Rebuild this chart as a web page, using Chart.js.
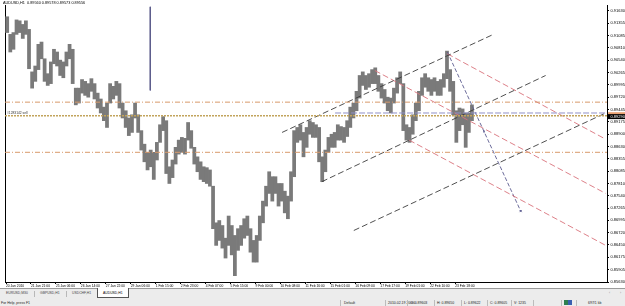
<!DOCTYPE html>
<html>
<head>
<meta charset="utf-8">
<title>AUDUSD,H1</title>
<script src="https://cdn.jsdelivr.net/npm/chart.js@4.4.1/dist/chart.umd.min.js"></script>
<style>
  html, body { margin: 0; padding: 0; width: 625px; height: 306px; overflow: hidden; background: #fff; font-family: "Liberation Sans", "DejaVu Sans", sans-serif; }
  #chartBox { position: absolute; left: 0; top: 0; width: 625px; height: 289px; }
  #symbol { position: absolute; left: 3px; top: 1px; font-size: 3.8px; line-height: 4px; color: #000; white-space: nowrap; }
  #tabs { position: absolute; left: 0; top: 288px; width: 625px; height: 11px; background: #ececec; border-top: 1px solid #9a9a9a; box-sizing: border-box; }
  .tab { position: absolute; top: 0; height: 9px; line-height: 9px; font-size: 3.4px; color: #444; white-space: nowrap; }
  .sep { position: absolute; top: 2px; width: 0; height: 6px; border-left: 1px solid #b8b8b8; }
  #active { position: absolute; left: 97px; top: -1px; width: 32px; height: 10px; background: #fff; border: 1px solid #555; border-top: none; box-sizing: border-box; }
  #status { position: absolute; left: 0; top: 299px; width: 625px; height: 7px; background: #ececec; }
  .st { position: absolute; top: 0; height: 7px; line-height: 8px; font-size: 3.5px; color: #222; white-space: nowrap; }
  .pane { position: absolute; top: 1px; height: 6px; border-left: 1px solid #bcbcbc; }
</style>
</head>
<body>
<div id="chartBox"><canvas id="chart" width="625" height="289"></canvas></div>
<div id="symbol">AUDUSD,H1&nbsp;&nbsp;0.89560 0.89578 0.89573 0.89556</div>

<div id="tabs">
  <div class="tab" style="left:6px">EURUSD,M30</div>
  <div class="sep" style="left:34px"></div>
  <div class="tab" style="left:40px">GBPUSD,H1</div>
  <div class="sep" style="left:66px"></div>
  <div class="tab" style="left:72px">USDCHF,H1</div>
  <div id="active"></div>
  <div class="tab" style="left:103px;color:#000">AUDUSD,H1</div>
  <div class="tab" style="left:609px;color:#888">&#8249;</div>
  <div class="tab" style="left:620px;color:#888">&#8250;</div>
</div>

<div id="status">
  <div class="st" style="left:1px">For Help, press F1</div>
  <div class="pane" style="left:340px"></div>
  <div class="st" style="left:344px">Default</div>
  <div class="pane" style="left:385px"></div>
  <div class="st" style="left:388px">2010.02.19 20:00</div>
  <div class="pane" style="left:407px"></div>
  <div class="st" style="left:410px">O: 0.89603</div>
  <div class="pane" style="left:434px"></div>
  <div class="st" style="left:437px">H: 0.89650</div>
  <div class="pane" style="left:461px"></div>
  <div class="st" style="left:464px">L: 0.89622</div>
  <div class="pane" style="left:487px"></div>
  <div class="st" style="left:490px">C: 0.89605</div>
  <div class="pane" style="left:511px"></div>
  <div class="st" style="left:514px">V: 1235</div>
  <div class="pane" style="left:533px"></div>
  <div class="pane" style="left:561px"></div>
  <div style="position:absolute;left:564px;top:1px;width:8px;height:5px;background:linear-gradient(90deg,#2f7f4f 0,#2f7f4f 50%,#3a5fb0 50%,#3a5fb0 100%)"></div>
  <div class="pane" style="left:576px"></div>
  <div class="st" style="left:588px">697/1 kb</div>
</div>

<script>
// bar index (hourly bars) of each time label and its text
const timeTickBars = [0, 32, 64, 96, 128, 160, 192, 224, 256, 288, 320, 352, 384, 416, 448, 480, 512, 544, 576];
const timeLabels = ['20 Jan 2010', '21 Jan 21:00', '25 Jan 06:00', '26 Jan 14:00', '27 Jan 22:00', '29 Jan 06:00',
  '1 Feb 15:00', '2 Feb 23:00', '4 Feb 07:00', '5 Feb 15:00', '9 Feb 00:00', '10 Feb 08:00', '11 Feb 16:00',
  '15 Feb 01:00', '16 Feb 09:00', '17 Feb 17:00', '19 Feb 01:00', '22 Feb 10:00', '23 Feb 18:00'];

// price scale labels
const priceTicks = [0.85630, 0.85905, 0.86175, 0.86450, 0.86720, 0.86995, 0.87265, 0.87540, 0.87810, 0.88085,
  0.88355, 0.88630, 0.88900, 0.89175, 0.89445, 0.89720, 0.89995, 0.90265, 0.90540, 0.90810, 0.91085, 0.91355, 0.91630];

// price range of each group of 4 hourly bars
const barsPerColumn = 4;
const colHigh = [
  0.9150, 0.9111, 0.9115, 0.9143, 0.9141, 0.9133, 0.9141, 0.9122, 0.9028, 0.9041,
  0.9089, 0.9094, 0.9057, 0.9024, 0.9050, 0.9078, 0.9072, 0.9054, 0.9050, 0.9072,
  0.9089, 0.9078, 0.8992, 0.8992, 0.9011, 0.9007, 0.9002, 0.9013, 0.9002, 0.8981,
  0.8968, 0.8950, 0.8959, 0.9002, 0.8996, 0.9007, 0.9002, 0.8959, 0.8942, 0.8926,
  0.8933, 0.8959, 0.8933, 0.8898, 0.8868, 0.8850, 0.8855, 0.8850, 0.8872, 0.8911,
  0.8929, 0.8920, 0.8818, 0.8833, 0.8861, 0.8877, 0.8883, 0.8881, 0.8916, 0.8898,
  0.8861, 0.8840, 0.8829, 0.8818, 0.8816, 0.8811, 0.8775, 0.8694, 0.8699, 0.8688,
  0.8660, 0.8709, 0.8688, 0.8666, 0.8681, 0.8688, 0.8703, 0.8709, 0.8681, 0.8655,
  0.8666, 0.8709, 0.8742, 0.8775, 0.8807, 0.8796, 0.8796, 0.8781, 0.8781, 0.8764,
  0.8753, 0.8807, 0.8898, 0.8905, 0.8911, 0.8894, 0.8905, 0.8920, 0.8916, 0.8911,
  0.8905, 0.8840, 0.8855, 0.8883, 0.8890, 0.8894, 0.8911, 0.8907, 0.8905, 0.8920,
  0.8950, 0.8959, 0.8985, 0.9020, 0.9028, 0.9020, 0.9024, 0.9033, 0.9037, 0.9020,
  0.9002, 0.8989, 0.8972, 0.8970, 0.8992, 0.9015, 0.9028, 0.9002, 0.8911, 0.8905,
  0.8933, 0.8959, 0.8985, 0.9015, 0.9024, 0.9015, 0.9011, 0.9015, 0.9007, 0.9011,
  0.9024, 0.9074, 0.9033, 0.9007, 0.8942, 0.8948, 0.8946, 0.8937, 0.8937, 0.8955
];
const colLow = [
  0.9115, 0.9072, 0.9078, 0.9111, 0.9115, 0.9102, 0.9111, 0.9035, 0.8992, 0.9007,
  0.9033, 0.9057, 0.9007, 0.8998, 0.9002, 0.9046, 0.9041, 0.9020, 0.9015, 0.9041,
  0.9057, 0.9002, 0.8955, 0.8959, 0.8981, 0.8976, 0.8972, 0.8985, 0.8968, 0.8948,
  0.8937, 0.8920, 0.8905, 0.8959, 0.8968, 0.8976, 0.8948, 0.8926, 0.8905, 0.8887,
  0.8894, 0.8926, 0.8894, 0.8855, 0.8829, 0.8811, 0.8818, 0.8790, 0.8833, 0.8872,
  0.8898, 0.8803, 0.8781, 0.8794, 0.8824, 0.8846, 0.8850, 0.8846, 0.8877, 0.8859,
  0.8824, 0.8807, 0.8790, 0.8785, 0.8781, 0.8775, 0.8681, 0.8644, 0.8655, 0.8638,
  0.8616, 0.8644, 0.8623, 0.8577, 0.8633, 0.8644, 0.8660, 0.8666, 0.8629, 0.8607,
  0.8607, 0.8655, 0.8694, 0.8731, 0.8759, 0.8742, 0.8759, 0.8731, 0.8742, 0.8716,
  0.8703, 0.8742, 0.8796, 0.8872, 0.8877, 0.8840, 0.8861, 0.8890, 0.8883, 0.8883,
  0.8829, 0.8785, 0.8807, 0.8850, 0.8861, 0.8861, 0.8877, 0.8877, 0.8872, 0.8885,
  0.8905, 0.8926, 0.8942, 0.8970, 0.8998, 0.8989, 0.8994, 0.9002, 0.9002, 0.8985,
  0.8970, 0.8959, 0.8942, 0.8937, 0.8959, 0.8981, 0.9002, 0.8898, 0.8877, 0.8872,
  0.8890, 0.8920, 0.8942, 0.8976, 0.8994, 0.8985, 0.8976, 0.8985, 0.8976, 0.8976,
  0.8994, 0.9013, 0.8985, 0.8933, 0.8872, 0.8898, 0.8911, 0.8861, 0.8894, 0.8920
];

// drawn objects: [bar index, price]
const channelUpper = [[354, 0.8894], [625, 0.9111]];
const channelMiddle = [[405, 0.8785], [692, 0.9020]];
const channelLower = [[446, 0.8677], [769, 0.8937]];
const redUpper = [[566, 0.9068], [769, 0.8879]];
const redMiddle = [[473, 0.9031], [769, 0.8759]];
const redLower = [[517, 0.8877], [769, 0.8644]];
const projection = [[566, 0.9072], [613, 0.8896], [660, 0.8720]];
const vLine = [[185, 0.9172], [185, 0.8987]];
const levelUpper = 0.8961;
const sellLevel = 0.8931;
const bidLineStart = 422;
const bidLevel = 0.8937;
const levelLower = 0.8850;
const lastPrice = 0.8929;

const xMin = -1.3, xMax = 770.7;
const pts = arr => arr.map(p => ({x: p[0], y: p[1]}));
const hLine = (v, from) => [{x: from, y: v}, {x: xMax, y: v}];

function lineSet(data, color, dash, width, extra) {
  return Object.assign({
    type: 'line', data: data, borderColor: color, borderWidth: width || 1,
    borderDash: dash, pointRadius: 0, fill: false, tension: 0, order: 0
  }, extra || {});
}

const overlays = {
  id: 'overlays',
  afterDraw(chart) {
    const {ctx, chartArea} = chart;
    const y = chart.scales.y;
    ctx.save();
    ctx.font = '3.3px "Liberation Sans"';
    ctx.fillStyle = '#333';
    ctx.textBaseline = 'bottom';
    ctx.fillText('#1283142 sell', chartArea.left + 2, y.getPixelForValue(sellLevel) - 0.8);
    const sy = y.getPixelForValue(sellLevel);
    ctx.fillStyle = '#e8a070';
    ctx.fillRect(chartArea.right + 1, sy - 3.5, 17, 2.5);
    const py = y.getPixelForValue(lastPrice);
    ctx.fillStyle = '#000';
    ctx.fillRect(chartArea.right + 1, py - 2.5, 17, 5);
    ctx.fillStyle = '#fff';
    ctx.textBaseline = 'middle';
    ctx.font = '4px "Liberation Sans"';
    ctx.fillText(lastPrice.toFixed(5), chartArea.right + 3.5, py + 0.3);
    ctx.restore();
  }
};

Chart.defaults.font.family = '"Liberation Sans", sans-serif';

new Chart(document.getElementById('chart'), {
  type: 'line',
  data: {
    datasets: [
      {
        type: 'bar',
        data: colHigh.map((h, i) => ({x: i * barsPerColumn + 1.5, y: [colLow[i], h]})),
        backgroundColor: '#7a7a7a',
        borderWidth: 0,
        barThickness: 3.1,
        grouped: false,
        order: 10
      },
      lineSet(hLine(levelUpper, xMin), '#d99a6c', [5, 2, 1, 2]),
      lineSet(hLine(levelLower, xMin), '#d99a6c', [5, 2, 1, 2]),
      lineSet(hLine(sellLevel, xMin), '#c2a45c', [2, 1], 1.6),
      lineSet(hLine(bidLevel, bidLineStart), '#9090c8', [6, 2]),
      lineSet(pts(channelUpper), '#3c3c3c', [6, 3], 0.9),
      lineSet(pts(channelMiddle), '#3c3c3c', [6, 3], 0.9),
      lineSet(pts(channelLower), '#3c3c3c', [6, 3], 0.9),
      lineSet(pts(redUpper), '#d9737c', [6, 3], 0.9),
      lineSet(pts(redMiddle), '#d9737c', [6, 3], 0.9),
      lineSet(pts(redLower), '#d9737c', [6, 3], 0.9),
      lineSet(pts(projection), '#5b5b8f', [4, 2], 0.9, {
        pointRadius: [0, 1.2, 1.5], pointStyle: 'crossRot', pointBorderColor: '#5b5b8f', pointBorderWidth: 1
      }),
      lineSet(pts(vLine), '#5c5c8c', [], 1)
    ]
  },
  options: {
    responsive: false,
    animation: false,
    devicePixelRatio: 1,
    layout: {padding: 0},
    plugins: {legend: {display: false}, tooltip: {enabled: false}},
    scales: {
      x: {
        type: 'linear', position: 'bottom', min: xMin, max: xMax, offset: false,
        grid: {drawOnChartArea: false, drawTicks: true, tickLength: 2, color: '#000', offset: false},
        border: {display: true, color: '#000', width: 1},
        ticks: {
          font: {size: 3.3}, color: '#000', padding: 0.5, align: 'start',
          maxRotation: 0, minRotation: 0, autoSkip: false,
          callback: v => timeLabels[timeTickBars.indexOf(v)]
        },
        afterBuildTicks: s => { s.ticks = timeTickBars.map(v => ({value: v})); },
        afterFit: s => { s.height = 7; }
      },
      y: {
        type: 'linear', position: 'right', min: 0.85630, max: 0.91760,
        grid: {drawOnChartArea: false, drawTicks: true, tickLength: 2, color: '#000'},
        border: {display: true, color: '#000', width: 1},
        ticks: {font: {size: 4}, color: '#000', padding: 1.5, autoSkip: false, callback: v => v.toFixed(5)},
        afterBuildTicks: s => { s.ticks = priceTicks.map(v => ({value: v})); },
        afterFit: s => { s.width = 18; }
      },
      yLeft: {
        type: 'linear', position: 'left',
        grid: {display: false, drawTicks: false},
        border: {display: true, color: '#000', width: 1},
        ticks: {display: false},
        afterFit: s => { s.width = 1; }
      }
    }
  },
  plugins: [overlays]
});
</script>
</body>
</html>
